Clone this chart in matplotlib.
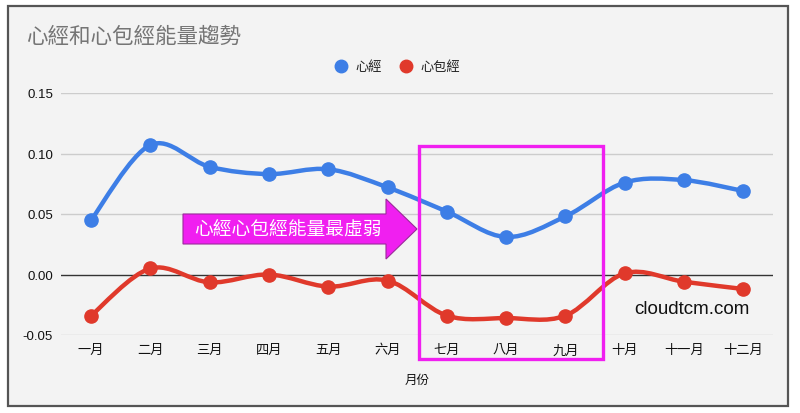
import numpy as np
import matplotlib
matplotlib.use("Agg")
import matplotlib.pyplot as plt
from matplotlib.path import Path
from matplotlib.patches import PathPatch, Rectangle, Polygon

plt.rcParams['font.family'] = ['Noto Sans CJK TC', 'DejaVu Sans']

months = ['一月', '二月', '三月', '四月', '五月', '六月',
          '七月', '八月', '九月', '十月', '十一月', '十二月']
heart = [0.045, 0.107, 0.089, 0.083, 0.087, 0.072,
         0.052, 0.031, 0.048, 0.076, 0.078, 0.069]
pericardium = [-0.034, 0.005, -0.0065, 0.0, -0.010, -0.005,
               -0.034, -0.036, -0.034, 0.001, -0.006, -0.012]
series_names = ['心經', '心包經']
colors = ['#3d7ee6', '#e0392b']
yticks = [-0.05, 0.0, 0.05, 0.10, 0.15]

W, H = 800, 414
fig = plt.figure(figsize=(W / 100, H / 100), dpi=100)
fig.patch.set_facecolor('white')

def fx(px):
    return px / W

def fy(py):
    return 1 - py / H

# outer frame
fig.patches.append(Rectangle((fx(8), fy(407)), fx(788) - fx(8), fy(7) - fy(407),
                             transform=fig.transFigure, facecolor='#f3f3f3',
                             edgecolor='#555555', linewidth=1.6, zorder=-5))

ax = fig.add_axes([fx(61.4), fy(336), fx(773) - fx(61.4), fy(94) - fy(336)])
ax.set_facecolor('none')
x = np.arange(len(months))
ax.set_xlim(-0.5, len(months) - 0.5)
ax.set_ylim(-0.05, 0.15)
for s in ax.spines.values():
    s.set_visible(False)
ax.set_yticks(yticks)
ax.set_yticklabels([f'{v:.2f}' for v in yticks], fontsize=9.5, color='#111111',
                   family=['Liberation Sans', 'DejaVu Sans'])
ax.set_xticks(x)
ax.set_xticklabels(months, fontsize=9.5, color='#111111', fontweight='medium')
ax.tick_params(length=0, pad=6)
ax.tick_params(axis='y', pad=6)
for v in yticks:
    if v == 0:
        ax.axhline(v, color='#333333', lw=1.0, zorder=1)
    else:
        ax.axhline(v, color='#cccccc', lw=1.0, zorder=1)


def smooth_path(xs, ys, k=1 / 6):
    xs = np.asarray(xs, float)
    ys = np.asarray(ys, float)
    n = len(xs)
    verts = [(xs[0], ys[0])]
    codes = [Path.MOVETO]
    for i in range(n - 1):
        p0 = np.array([xs[max(i - 1, 0)], ys[max(i - 1, 0)]])
        p1 = np.array([xs[i], ys[i]])
        p2 = np.array([xs[i + 1], ys[i + 1]])
        p3 = np.array([xs[min(i + 2, n - 1)], ys[min(i + 2, n - 1)]])
        c1 = p1 + (p2 - p0) * k
        c2 = p2 - (p3 - p1) * k
        verts += [tuple(c1), tuple(c2), tuple(p2)]
        codes += [Path.CURVE4] * 3
    return Path(verts, codes)

for vals, c in zip([heart, pericardium], colors):
    ax.add_patch(PathPatch(smooth_path(x, vals), facecolor='none', edgecolor=c,
                           lw=3.2, zorder=3, capstyle='round', joinstyle='round'))
    ax.plot(x, vals, linestyle='none', marker='o', ms=9.5, color=c, zorder=4)

ax.set_xlabel('月份', fontsize=9, color='#111111', labelpad=12, fontweight='medium')

# title
fig.text(fx(26), fy(37), '心經和心包經能量趨勢', fontsize=15.5, color='#757575',
         va='center', ha='left')

# legend
fig.lines.append(plt.Line2D([fx(341)], [fy(67)], marker='o', ms=9, color=colors[0],
                            transform=fig.transFigure, linestyle='none'))
fig.text(fx(355), fy(67), series_names[0], fontsize=9.5, color='#222222', va='center')
fig.lines.append(plt.Line2D([fx(406)], [fy(67)], marker='o', ms=9, color=colors[1],
                            transform=fig.transFigure, linestyle='none'))
fig.text(fx(420), fy(67), series_names[1], fontsize=9.5, color='#222222', va='center')

# magenta highlight box
fig.patches.append(Rectangle((fx(419), fy(360)), fx(603) - fx(419), fy(147) - fy(360),
                             transform=fig.transFigure, facecolor='none',
                             edgecolor='#f01ff0', linewidth=2.4, zorder=10))

# arrow
arrow_pts = [(183, 215), (386, 215), (386, 200), (417, 230), (386, 260),
             (386, 245), (183, 245)]
fig.patches.append(Polygon([(fx(a), fy(b)) for a, b in arrow_pts], closed=True,
                           transform=fig.transFigure, facecolor='#f01ff0',
                           edgecolor='#9a2a9a', linewidth=0.8, zorder=9))
fig.text(fx(288), fy(230), '心經心包經能量最虛弱', fontsize=13.5, color='white',
         ha='center', va='center', zorder=11)

fig.text(fx(634), fy(310), 'cloudtcm.com', fontsize=13.5, color='#111111',
         ha='left', va='center', family=['Liberation Sans', 'DejaVu Sans'])

fig.savefig('out.png', dpi=100)
